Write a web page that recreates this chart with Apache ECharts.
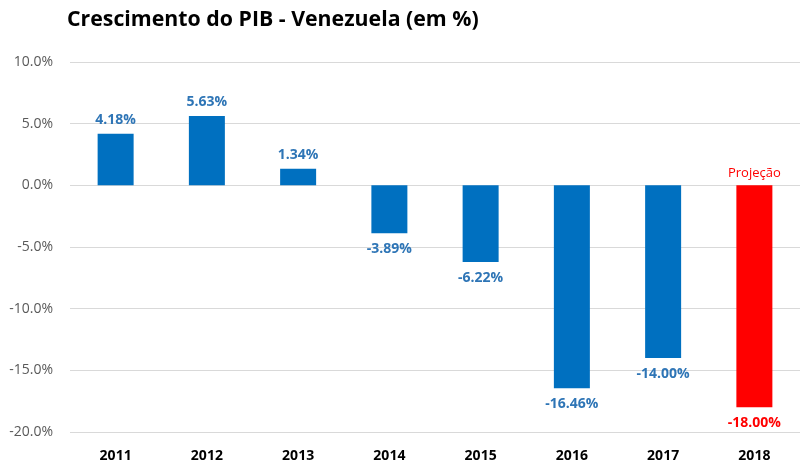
<!DOCTYPE html>
<html><head><meta charset="utf-8">
<script src="https://cdn.jsdelivr.net/npm/echarts@6/dist/echarts.min.js"></script>
<style>html,body{margin:0;padding:0;background:#fff}#c{width:800px;height:463px}</style>
</head><body><div id="c"></div>
<script>
const years = ['2011','2012','2013','2014','2015','2016','2017','2018'];
const growth = [4.18, 5.63, 1.34, -3.89, -6.22, -16.46, -14.00, -18.00];
const projectionYear = '2018';
const projectionLabel = 'Projeção';
const yTicks = {min: -20, max: 10, interval: 5};

const blue = '#0070C0', red = '#FF0000', labelBlue = '#2E75B6';
const chart = echarts.init(document.getElementById('c'));
const data = growth.map((v, i) => {
  const proj = years[i] === projectionYear;
  return {
    value: v,
    itemStyle: {color: proj ? red : blue},
    label: {position: v >= 0 ? 'top' : 'bottom', distance: v >= 0 ? 7 : 9, color: proj ? red : labelBlue}
  };
});
chart.setOption({
  animation: false,
  title: {text: 'Crescimento do PIB - Venezuela (em %)', left: 62, top: 4,
    textStyle: {fontFamily: 'Open Sans', fontWeight: 'bold', fontSize: 21.3, color: '#000'}},
  grid: {left: 70, right: 0, top: 62, bottom: 31},
  xAxis: {type: 'category', data: years,
    axisLine: {show: false}, axisTick: {show: false},
    axisLabel: {fontFamily: 'Open Sans', fontWeight: 'bold', fontSize: 14, color: '#000', margin: 17}},
  yAxis: {type: 'value', min: yTicks.min, max: yTicks.max, interval: yTicks.interval,
    axisLine: {show: false}, axisTick: {show: false},
    splitLine: {lineStyle: {color: '#D9D9D9'}},
    axisLabel: {fontFamily: 'Open Sans', fontSize: 14, color: '#595959', margin: 17,
      formatter: v => v.toFixed(1) + '%'}},
  series: [{type: 'bar', data: data, barWidth: 36,
    label: {show: true, fontFamily: 'Open Sans', fontWeight: 'bold', fontSize: 14,
      formatter: p => p.value.toFixed(2) + '%'},
    markPoint: {symbol: 'rect', symbolSize: 0,
      data: [{coord: [projectionYear, 0], value: projectionLabel}],
      label: {show: true, position: 'top', distance: 6, formatter: projectionLabel,
        fontFamily: 'Open Sans', fontSize: 13, color: red}}
  }]
});
</script></body></html>
